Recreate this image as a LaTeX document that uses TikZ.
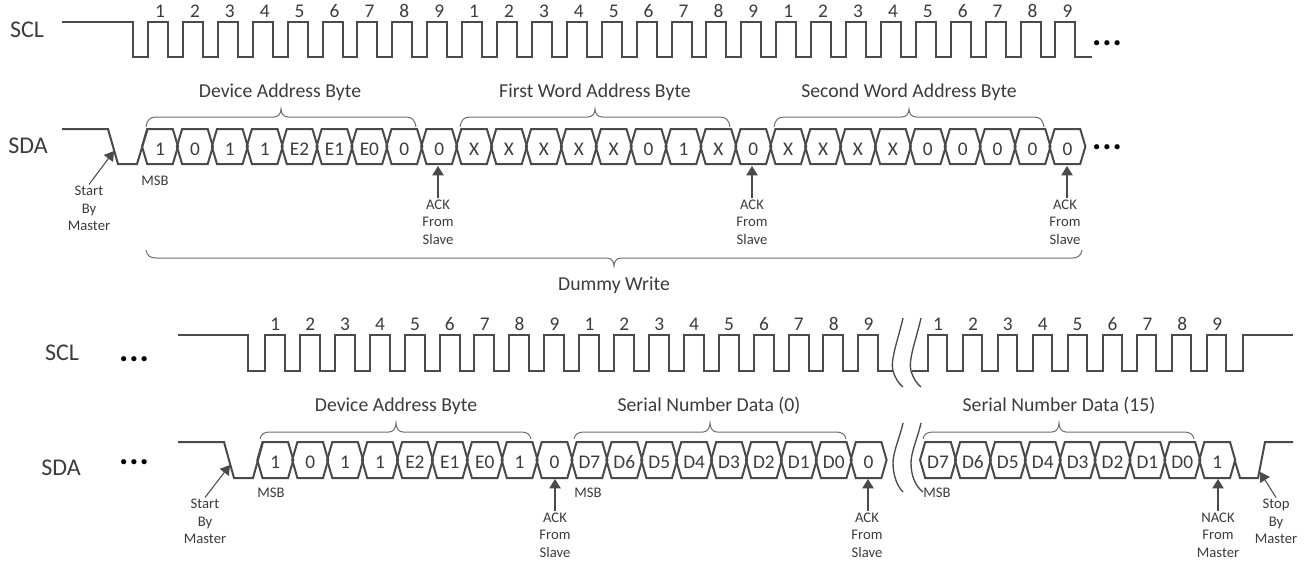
\documentclass[tikz,border=0pt]{standalone}
\usepackage{fontspec}
\setmainfont{Carlito}
\newfontfamily\dotfont[LetterSpace=3]{Carlito Bold}
\usetikzlibrary{arrows.meta}
\definecolor{ink}{HTML}{4A4A4A}
\definecolor{txt}{HTML}{3C3C3C}
\definecolor{brc}{HTML}{6E6E6E}
\tikzset{
  wave/.style={draw=ink,line width=1.5pt,line join=miter},
  thinbrace/.style={draw=brc,line width=0.75pt},
  breakmark/.style={draw=ink,line width=1pt},
  pointer/.style={draw=ink,line width=0.8pt,-{Triangle[length=7pt,width=8.5pt]}},
  sig/.style={text=txt,font=\fontsize{18pt}{20pt}\selectfont,anchor=base,inner sep=0pt},
  numlab/.style={text=txt,font=\fontsize{14.5pt}{16pt}\selectfont,anchor=base,inner sep=0pt},
  bit/.style={text=txt,font=\fontsize{14.5pt}{16pt}\selectfont,anchor=base,inner sep=0pt},
  title/.style={text=txt,font=\fontsize{14.8pt}{17pt}\selectfont,anchor=base,inner sep=0pt},
  small/.style={text=txt,font=\fontsize{11pt}{13.2pt}\selectfont,align=center,inner sep=1pt},
  more/.style={text=black,font=\dotfont\fontsize{26pt}{28pt}\selectfont,anchor=base,inner sep=0pt},
}
% hexagon row: name, first centre, top, bottom, text baseline, labels
\newcommand{\hexrow}[6]{%
  \foreach \lab [count=\n from 0] in {#6} {
    \pgfmathsetmacro{\c}{#2+34.9*\n}
    \pgfmathsetmacro{\m}{(#3+#4)/2}
    \draw[wave] (\c-18,\m) -- (\c-12.8,#3) -- (\c+12.8,#3) -- (\c+18,\m)
      -- (\c+12.8,#4) -- (\c-12.8,#4) -- cycle;
    \node[bit] (#1\n) at (\c,#5) {\lab};
  }%
}
% x1, tip x, x2, y end, y line, y tip
\newcommand{\curly}[6]{%
  \draw[thinbrace] (#1,#4) .. controls (#1+1,{#5+0.3*(#4-#5)}) and (#1+4,#5) .. (#1+10,#5)
    -- (#2-7,#5) .. controls (#2-3,#5) and (#2,{#5+0.4*(#6-#5)}) .. (#2,#6)
    .. controls (#2,{#5+0.4*(#6-#5)}) and (#2+3,#5) .. (#2+7,#5)
    -- (#3-10,#5) .. controls (#3-4,#5) and (#3-1,{#5+0.3*(#4-#5)}) .. (#3,#4);%
}
\newcommand{\numbers}[4]{% name, first x, baseline, labels
  \foreach \n [count=\i from 0] in {#4} {
    \node[numlab] (#1\i) at ({#2+34.9*\i},#3) {\n};
  }%
}
\begin{document}
\begin{tikzpicture}[x=0.75pt,y=-0.75pt]
\useasboundingbox[fill=white] (0,0) rectangle (1308,561);

% ---------- upper SCL
\node[sig] (scl1) at (27,37) {SCL};
\draw[wave] (62,22) -- (133,22) -- (133,57)
  \foreach \k in {0,...,26}{ -- ({148+34.9*\k},57) -- ({148+34.9*\k},22) -- ({168+34.9*\k},22) -- ({168+34.9*\k},57)}
  -- (1092,57);
\numbers{na}{160}{17}{1,2,3,4,5,6,7,8,9,1,2,3,4,5,6,7,8,9,1,2,3,4,5,6,7,8,9}
\node[more] (dots1) at (1107,45) {...};

% ---------- upper SDA
\node[sig] (sda1) at (28,153) {SDA};
\draw[wave] (62,129) -- (108,129) -- (118,164) -- (137,164) -- (147.6,129);
\hexrow{ba}{160}{129}{164}{155.5}{1,0,1,1,E2,E1,E0,0,0,X,X,X,X,X,0,1,X,0,X,X,X,X,0,0,0,0,0}
\node[more] (dots2) at (1107,149) {...};

\node[title] (t1) at (280,97) {Device Address Byte};
\node[title] (t2) at (595,97) {First Word Address Byte};
\node[title] (t3) at (909,97) {Second Word Address Byte};
\curly{146}{281}{416}{127}{117}{109}
\curly{460}{595}{730}{127}{117}{109}
\curly{774}{909}{1044}{127}{117}{109}

\node[small] (msb1) at (155,181) {MSB};
\node[small] (start1) at (89,208.5) {Start\\By\\Master};
\coordinate (tipS1) at (114,151);
\draw[pointer] (start1.north) -- (tipS1);
\node[small] (ack1) at (438,222) {ACK\\From\\Slave};
\node[small] (ack2) at (752,222) {ACK\\From\\Slave};
\node[small] (ack3) at (1065,222) {ACK\\From\\Slave};
\coordinate (tipA1) at (438,166);
\coordinate (tipA2) at (752,166);
\coordinate (tipA3) at (1067,166);
\draw[pointer] (ack1.north) -- (tipA1);
\draw[pointer] (ack2.north) -- (tipA2);
\draw[pointer] (ack3.north -| tipA3) -- (tipA3);

\curly{146}{614}{1082}{250}{258}{266}
\node[title] (dummy) at (614,290) {Dummy Write};

% ---------- lower SCL
\node[sig] (scl2) at (62,360) {SCL};
\node[more] (dots3) at (134,361) {...};
\draw[wave] (178,335) -- (248,335) -- (248,370.5)
  \foreach \k in {0,...,17}{ -- ({265+34.9*\k},370.5) -- ({265+34.9*\k},335) -- ({285+34.9*\k},335) -- ({285+34.9*\k},370.5)}
  -- (893,370.5);
\draw[wave] (912,370.5)
  \foreach \k in {0,...,8}{ -- ({928+34.9*\k},370.5) -- ({928+34.9*\k},335) -- ({947+34.9*\k},335) -- ({947+34.9*\k},370.5)}
  -- (1243,370.5) -- (1243,335) -- (1293,335);
\numbers{nb}{275.3}{330}{1,2,3,4,5,6,7,8,9,1,2,3,4,5,6,7,8,9}
\numbers{nc}{938}{330}{1,2,3,4,5,6,7,8,9}

% ---------- lower SDA
\node[sig] (sda2) at (61,475) {SDA};
\node[more] (dots4) at (134,464) {...};
\draw[wave] (178,442) -- (224,442) -- (234,478) -- (253,478) -- (263,442);
\hexrow{bb}{275.3}{442}{478}{468.5}{1,0,1,1,E2,E1,E0,1,0,D7,D6,D5,D4,D3,D2,D1,D0,0}
\hexrow{bc}{938}{442}{478}{468.5}{D7,D6,D5,D4,D3,D2,D1,D0,1}
\draw[wave] (1234.6,460) -- (1240,478) -- (1258,478) -- (1265,442) -- (1293,442);

\node[title] (t4) at (396,411) {Device Address Byte};
\node[title] (t5) at (709,411) {Serial Number Data (0)};
\node[title] (t6) at (1059,411) {Serial Number Data (15)};
\curly{260}{396}{531}{439}{432}{423}
\curly{574}{710}{846}{439}{432}{423}
\curly{923}{1059}{1194}{439}{432}{423}

% break marks
\draw[breakmark] (903,318) .. controls (898,340) and (890,360) .. (893,371) .. controls (895,378) and (899,384) .. (903,387);
\draw[breakmark] (921,318) .. controls (916,340) and (908,360) .. (911,371) .. controls (913,378) and (917,384) .. (921,387);
\draw[breakmark] (903,423) .. controls (899,440) and (893,452) .. (893,463) .. controls (893,475) and (897,486) .. (903,492);
\draw[breakmark] (921,423) .. controls (917,440) and (911,452) .. (911,463) .. controls (911,475) and (915,486) .. (923,492);

\node[small] (msb2) at (271,493) {MSB};
\node[small] (msb3) at (588,493) {MSB};
\node[small] (msb4) at (937,493) {MSB};
\node[small] (start2) at (205,521.5) {Start\\By\\Master};
\node[small] (stop) at (1276,521.5) {Stop\\By\\Master};
\coordinate (tipS2) at (230,465);
\coordinate (tipE) at (1260,472);
\draw[pointer] (start2.north) -- (tipS2);
\draw[pointer] (stop.north) -- (tipE);
\node[small] (ack4) at (555,535) {ACK\\From\\Slave};
\node[small] (ack5) at (867,535) {ACK\\From\\Slave};
\node[small] (nack) at (1218,535) {NACK\\From\\Master};
\coordinate (tipA4) at (555,479);
\coordinate (tipA5) at (868,479);
\coordinate (tipA6) at (1218,479);
\draw[pointer] (ack4.north) -- (tipA4);
\draw[pointer] (ack5.north -| tipA5) -- (tipA5);
\draw[pointer] (nack.north) -- (tipA6);
\end{tikzpicture}
\end{document}
